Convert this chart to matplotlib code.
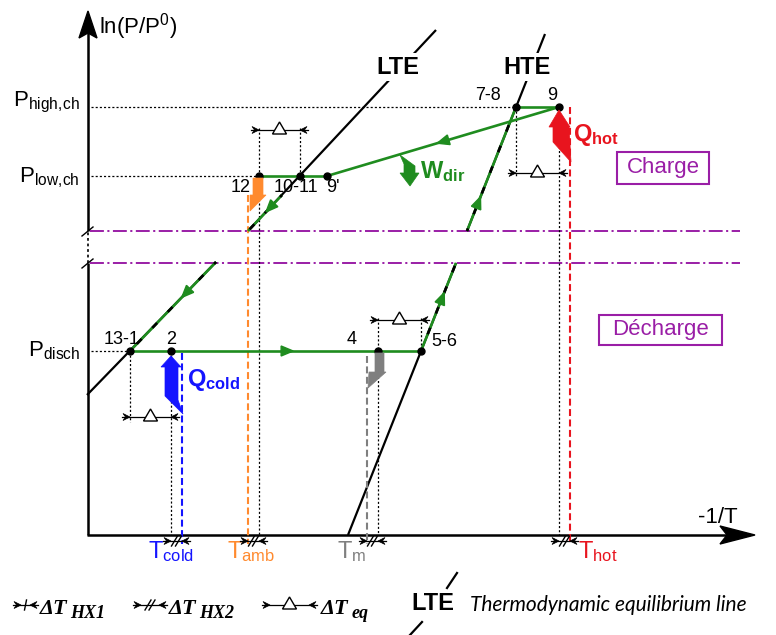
import numpy as np
import matplotlib
matplotlib.use('Agg')
import matplotlib.pyplot as plt
from matplotlib.patches import Polygon, Rectangle

plt.rcParams['font.family'] = 'Liberation Sans'
plt.rcParams['mathtext.fontset'] = 'custom'
plt.rcParams['mathtext.rm'] = 'Liberation Sans'
plt.rcParams['mathtext.it'] = 'Liberation Sans:italic'
plt.rcParams['mathtext.bf'] = 'Liberation Sans:bold'
plt.rcParams['lines.scale_dashes'] = False

GREEN = '#1f8c1f'
PURPLE = '#9a1ea6'
DOT = (0, (1.5, 1.5))

# diagram units: x ~ -1/T, y ~ ln(P/P0) (grows downwards, close to pixels)
p_labels = [r'$\mathregular{P_{high,\!ch}}$', r'$\mathregular{P_{low,\!ch}}$', r'$\mathregular{P_{disch}}$']
p_levels = [107, 176, 351]
p_ends = [516, 259, 130]
p_text_y = [106, 182, 356]

pt_names = ['13-1', '2', '4', '5-6', '12', '10-11', "9'", '7-8', '9']
pt_x = [130, 171, 378, 421, 259, 300, 327, 516, 559]
pt_y = [351, 351, 351, 351, 176, 176, 176, 107, 107]
pt_lab_x = [122, 171, 352, 444, 241, 296, 333, 488, 552]
pt_lab_y = [340, 340, 340, 341, 188, 188, 188, 96, 96]

# sink / source temperatures
t_names = ['cold', 'amb', 'm', 'hot']
t_x = [182, 248, 367, 570]
t_top = [353, 195, 356, 107]
t_eq = [171, 259, 378, 559]          # matching equilibrium temperature
t_colors = ['#1414ff', '#ff8a2e', '#7f7f7f', '#e8141e']
t_lab_x = [148, 227, 337, 578]

# approach temperature brackets (x_left, x_right, level)
eq_left = [130, 259, 378, 516]
eq_right = [171, 300, 421, 559]
eq_level = [417, 130, 320, 173]

# dotted guides
guide_x = [130, 171, 259, 300, 378, 421, 516, 559]
guide_y0 = [351, 351, 128, 128, 318, 318, 107, 113]
guide_y1 = [422, 535, 535, 176, 535, 351, 176, 535]

# equilibrium lines (lower / upper part of the broken axis)
lte_lo_x, lte_lo_y = [87, 216], [395, 262]
lte_hi_x, lte_hi_y = [248, 436], [231, 30]
hte_lo_x, hte_lo_y = [348, 456], [535, 263]
hte_hi_x, hte_hi_y = [467, 545], [231, 34]
breaks = [231, 263]

fig = plt.figure(figsize=(7.76, 6.35), dpi=100)
ax = fig.add_axes([0, 0, 1, 1])
ax.set_xlim(0, 776)
ax.set_ylim(635, 0)
ax.axis('off')


def head(p0, p1, frac, size=12, half=5, color=GREEN):
    dx, dy = p1[0] - p0[0], p1[1] - p0[1]
    L = np.hypot(dx, dy)
    ux, uy = dx / L, dy / L
    cx, cy = p0[0] + frac * dx, p0[1] + frac * dy
    tip = (cx + ux * size / 2, cy + uy * size / 2)
    b1 = (cx - ux * size / 2 - uy * half, cy - uy * size / 2 + ux * half)
    b2 = (cx - ux * size / 2 + uy * half, cy - uy * size / 2 - ux * half)
    ax.add_patch(Polygon([tip, b1, b2], closed=True, fc=color, ec=color, zorder=6))


def barb(x, y, d):
    ax.add_patch(Polygon([(x, y), (x - d * 7, y - 3.5), (x - d * 4.5, y), (x - d * 7, y + 3.5)],
                         closed=True, fc='k', ec='k', lw=0.5, zorder=6))


def dim(x1, x2, y, kind):
    ax.plot([x1 - 8, x2 + 8], [y, y], color='k', lw=0.9, zorder=5)
    barb(x1, y, 1)
    barb(x2, y, -1)
    xm = (x1 + x2) / 2
    if kind == 'eq':
        ax.add_patch(Polygon([(xm - 7, y + 4), (xm + 7, y + 4), (xm, y - 8)], closed=True,
                             fc='white', ec='k', lw=1, zorder=7))
    elif kind == 'hx1':
        ax.plot([xm - 1, xm + 1], [y + 5, y - 5], color='k', lw=1, zorder=7)
    else:
        for off in (-2, 2):
            ax.plot([xm + off - 3, xm + off + 3], [y + 5, y - 5], color='k', lw=1, zorder=7)


# axes with break
ax.plot([88, 88], [535, breaks[1]], color='k', lw=1.8, solid_capstyle='butt')
ax.plot([88, 88], [breaks[1], breaks[0]], color='k', lw=1.2, linestyle=(0, (2, 2)))
ax.plot([88, 88], [breaks[0], 33], color='k', lw=1.8, solid_capstyle='butt')
ax.add_patch(Polygon([(88, 11), (97, 38), (88, 33), (79, 38)], closed=True, fc='k', ec='k'))
ax.plot([87, 728], [535, 535], color='k', lw=1.8, solid_capstyle='butt')
ax.add_patch(Polygon([(755, 535), (720, 526), (727, 535), (720, 544)], closed=True, fc='k', ec='k'))
for yb in breaks:
    ax.plot([82, 93], [yb + 5, yb - 4], color='k', lw=1)
    ax.plot([90, 740], [yb, yb], color=PURPLE, lw=1.4, linestyle=(0, (10, 2.5, 1.5, 2.5)))

ax.text(99, 33, r'$\mathregular{ln(P/P^0)}$', fontsize=16, va='baseline', ha='left')
ax.text(698, 523, '-1/T', fontsize=16, va='baseline', ha='left')

# pressure levels
for lab, yl, xe, ty in zip(p_labels, p_levels, p_ends, p_text_y):
    ax.plot([91, xe], [yl, yl], color='k', lw=0.9, linestyle=DOT)
    ax.text(80, ty, lab, fontsize=16, ha='right', va='baseline')

# dotted guides
for gx, g0, g1 in zip(guide_x, guide_y0, guide_y1):
    ax.plot([gx, gx], [g0, g1], color='k', lw=0.9, linestyle=DOT)

# temperature lines
for name, tx, top, teq, col, lx in zip(t_names, t_x, t_top, t_eq, t_colors, t_lab_x):
    ax.plot([tx, tx], [top, 544], color=col, lw=1.5, linestyle=(0, (5, 2.5)), zorder=3)
    dim(min(tx, teq), max(tx, teq), 541, 'hx2')
    ax.text(lx, 558, r'$\mathregular{T_{%s}}$' % name, color=col, fontsize=17,
            ha='left', va='baseline')

for a, b, yb in zip(eq_left, eq_right, eq_level):
    dim(a, b, yb, 'eq')

# equilibrium lines
for xs, ys in [(lte_lo_x, lte_lo_y), (lte_hi_x, lte_hi_y), (hte_lo_x, hte_lo_y), (hte_hi_x, hte_hi_y)]:
    ax.plot(xs, ys, color='k', lw=1.6, solid_capstyle='butt', zorder=2)
ax.text(398, 67, 'LTE', fontsize=17, fontweight='bold', ha='center', va='center', zorder=8,
        bbox=dict(fc='white', ec='none', pad=1.5))
ax.text(527, 67, 'HTE', fontsize=17, fontweight='bold', ha='center', va='center', zorder=8,
        bbox=dict(fc='white', ec='none', pad=1.5))

# cycle path: (start, end, arrow position, on an equilibrium line)
path = [
    ((130, 351), (421, 351), 0.54, False),
    ((421, 351), (456, 263), 0.6, True),
    ((467, 231), (516, 107), 0.23, True),
    ((516, 107), (559, 107), None, False),
    ((559, 107), (327, 176), 0.5, False),
    ((327, 176), (259, 176), None, False),
    ((282, 195), (248, 231), 0.35, True),
    ((216, 262), (130, 351), 0.35, True),
]
for p0, p1, fr, on_eq in path:
    ax.plot([p0[0], p1[0]], [p0[1], p1[1]], color=GREEN, lw=1.9, solid_capstyle='butt', zorder=4)
    if on_eq:
        ax.plot([p0[0], p1[0]], [p0[1], p1[1]], color='k', lw=1.9, linestyle=(3, (5, 11)), zorder=4)
    if fr is not None:
        head(p0, p1, fr)

ax.plot(pt_x, pt_y, 'o', color='k', ms=5, zorder=9)
for name, lx, ly in zip(pt_names, pt_lab_x, pt_lab_y):
    ax.text(lx, ly, name, fontsize=13, ha='center', va='center', zorder=9)

# heat / work arrows
q_cold = [(171, 356), (181, 367), (178, 367), (178, 400), (183, 414), (165, 396), (165, 367), (161, 367)]
q_hot = [(559, 110), (570, 127), (569, 127), (571, 162), (553, 142), (553, 127), (549, 127)]
w_dir = [(410, 186), (400, 173), (404, 173), (404, 164), (400, 155), (415, 166), (415, 173), (419, 173)]
q_amb = [(253, 178), (263, 178), (263, 195), (266, 195), (250, 211), (250, 195), (253, 195)]
q_m = [(375, 353), (384, 353), (384, 372), (386, 372), (368, 388), (369, 372), (375, 372)]
for shape, col in [(q_cold, t_colors[0]), (q_hot, t_colors[3]), (w_dir, GREEN),
                   (q_amb, t_colors[1]), (q_m, t_colors[2])]:
    ax.add_patch(Polygon(shape, closed=True, fc=col, ec=col, lw=0.5, zorder=10))

ax.text(187, 386, r'$\mathbf{Q_{cold}}$', color=t_colors[0], fontsize=17, va='baseline')
ax.text(573, 141, r'$\mathbf{Q_{hot}}$', color=t_colors[3], fontsize=17, va='baseline')
ax.text(420, 178, r'$\mathbf{W_{dir}}$', color=GREEN, fontsize=17, va='baseline')

# mode boxes
ax.add_patch(Rectangle((617, 152), 92, 32, fill=False, ec=PURPLE, lw=1.5))
ax.text(663, 168, 'Charge', color=PURPLE, fontsize=16, ha='center', va='center')
ax.add_patch(Rectangle((599, 315), 123, 30, fill=False, ec=PURPLE, lw=1.5))
ax.text(660, 330, 'Décharge', color=PURPLE, fontsize=16, ha='center', va='center')

# legend row
serif = dict(family='Liberation Serif', fontweight='bold', fontstyle='italic')
dim(21, 30, 605, 'hx1')
dim(141, 159, 605, 'hx2')
dim(270, 309, 605, 'eq')
for x0, sub, xs in [(40, 'HX1', 70), (169, 'HX2', 199), (321, 'eq', 352)]:
    ax.text(x0, 614, 'ΔT', fontsize=16, va='baseline', **serif)
    ax.text(xs, 618, sub, fontsize=13, va='baseline', **serif)
ax.plot([447, 457], [588, 573], color='k', lw=1.6)
ax.plot([410, 422], [635, 622], color='k', lw=1.6)
ax.text(433, 604, 'LTE', fontsize=17, fontweight='bold', ha='center', va='center')
ax.text(470, 611, 'Thermodynamic equilibrium line', fontsize=15, fontstyle='italic',
        family='Lato', va='baseline')

fig.savefig('out.png', dpi=100)
